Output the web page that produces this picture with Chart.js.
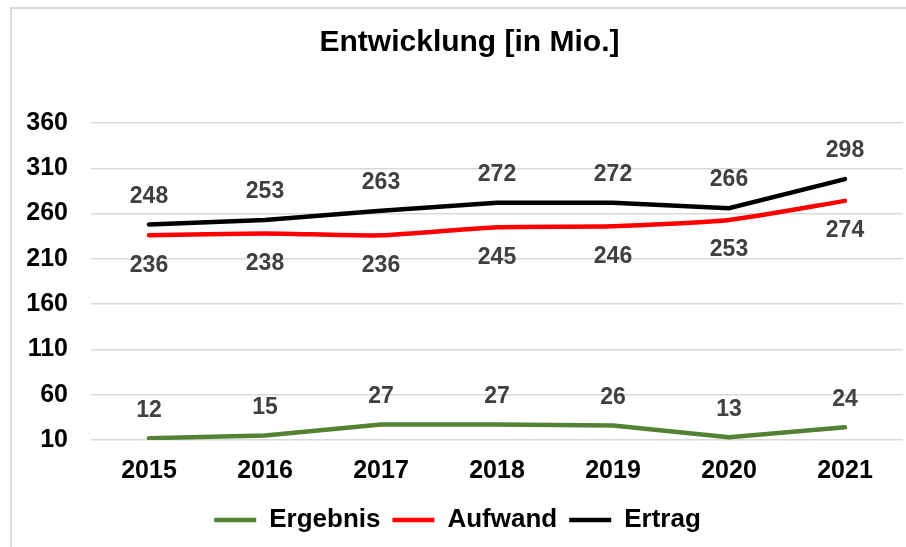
<!DOCTYPE html>
<html>
<head>
<meta charset="utf-8">
<script src="https://cdn.jsdelivr.net/npm/chart.js@4"></script>
<style>
    html, body {
        margin: 0;
        padding: 0;
        background: #fff;
        overflow: hidden;
        width: 906px;
        height: 547px;
    }

    #edge-left {
        position: absolute;
        left: 10px;
        top: 7px;
        width: 2px;
        height: 540px;
        background: #d9d9d9;
    }

    #edge-top {
        position: absolute;
        left: 10px;
        top: 7px;
        width: 896px;
        height: 2px;
        background: #d9d9d9;
    }

    #chart {
        position: absolute;
        left: 12px;
        top: 9px;
    }
</style>
</head>
<body>
<div id="edge-left"></div>
<div id="edge-top"></div>
<canvas id="chart" width="916" height="538"></canvas>

<script>
const years = ['2015', '2016', '2017', '2018', '2019', '2020', '2021'];

const ergebnis = [12, 15, 27, 27, 26, 13, 24];
const aufwand = [236, 238, 236, 245, 246, 253, 274];
const ertrag = [248, 253, 263, 272, 272, 266, 298];

const yTicks = [10, 60, 110, 160, 210, 260, 310, 360];

const FONT = "Arial, 'Liberation Sans', sans-serif";

// label position per series: negative = above the line
const labelOffsets = {
    'Ergebnis': -28,
    'Aufwand': 30,
    'Ertrag': -28,
};

const valueLabels = {
    id: 'valueLabels',
    afterDatasetsDraw(chart) {
        const ctx = chart.ctx;
        ctx.save();
        ctx.font = `bold 23px ${FONT}`;
        ctx.fillStyle = '#404040';
        ctx.textAlign = 'center';
        ctx.textBaseline = 'middle';

        chart.data.datasets.forEach((ds, i) => {
            const meta = chart.getDatasetMeta(i);
            const offset = labelOffsets[ds.label] || -25;
            meta.data.forEach((pt, j) => {
                ctx.fillText(String(ds.data[j]), pt.x, pt.y + offset);
            });
        });

        ctx.restore();
    }
};

// title sits a bit right of the legend in the original
const titleShift = {
    id: 'titleShift',
    afterLayout(chart) {
        if (chart.titleBlock) {
            chart.titleBlock.left += 12;
            chart.titleBlock.right += 12;
        }
    }
};

const canvas = document.getElementById('chart');

new Chart(canvas.getContext('2d'), {
    type: 'line',
    data: {
        labels: years,
        datasets: [
            {
                label: 'Ergebnis',
                data: ergebnis,
                borderColor: '#548235',
                backgroundColor: '#548235',
                borderWidth: 4.5,
                borderCapStyle: 'round',
                pointRadius: 0,
                tension: 0,
            },
            {
                label: 'Aufwand',
                data: aufwand,
                borderColor: '#ff0000',
                backgroundColor: '#ff0000',
                borderWidth: 4.5,
                borderCapStyle: 'round',
                pointRadius: 0,
                tension: 0.2,
            },
            {
                label: 'Ertrag',
                data: ertrag,
                borderColor: '#000000',
                backgroundColor: '#000000',
                borderWidth: 4.5,
                borderCapStyle: 'round',
                pointRadius: 0,
                tension: 0,
            },
        ],
    },
    options: {
        responsive: false,
        animation: false,
        layout: {
            padding: {left: 0, right: 25, top: 0, bottom: 4},
        },
        plugins: {
            tooltip: {enabled: false},
            title: {
                display: true,
                text: 'Entwicklung [in Mio.]',
                color: '#000',
                font: {family: FONT, size: 30, weight: 'bold'},
                padding: {top: 16, bottom: 62},
            },
            legend: {
                position: 'bottom',
                labels: {
                    usePointStyle: true,
                    pointStyle: 'line',
                    pointStyleWidth: 42,
                    color: '#000',
                    padding: 12,
                    font: {family: FONT, size: 26, weight: 'bold'},
                },
            },
        },
        scales: {
            x: {
                offset: true,
                grid: {display: false, drawTicks: false, tickLength: 0},
                border: {display: false},
                ticks: {
                    color: '#000',
                    padding: 16,
                    font: {family: FONT, size: 25, weight: 'bold'},
                },
                afterFit(scale) {
                    scale.height = 55;
                },
            },
            y: {
                min: yTicks[0],
                max: yTicks[yTicks.length - 1],
                afterBuildTicks(scale) {
                    scale.ticks = yTicks.map(v => ({value: v}));
                },
                grid: {color: '#d9d9d9', lineWidth: 1.5, drawTicks: false, tickLength: 0},
                border: {display: false},
                ticks: {
                    color: '#000',
                    padding: 23,
                    font: {family: FONT, size: 25, weight: 'bold'},
                },
                afterFit(scale) {
                    scale.width = 79;
                },
            },
        },
    },
    plugins: [valueLabels, titleShift],
});
</script>
</body>
</html>
